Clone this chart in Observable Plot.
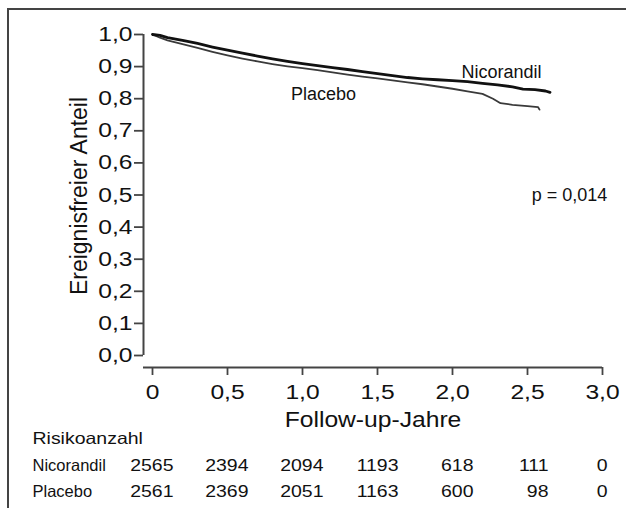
<!DOCTYPE html>
<html><head><meta charset="utf-8">
<script src="https://cdn.jsdelivr.net/npm/d3@7"></script>
<script src="https://cdn.jsdelivr.net/npm/@observablehq/plot@0.6"></script>
<style>
body{margin:0;background:#fff;}
#wrap{position:relative;width:626px;height:508px;overflow:hidden;background:#fff;}
#frame{position:absolute;left:7px;top:8px;width:640px;height:520px;border-top:2px solid #444;border-left:2px solid #444;}
#chart{position:absolute;left:0;top:0;}
</style></head><body>
<div id="wrap"><div id="frame"></div><div id="chart"></div></div>
<script>
// Kaplan-Meier curves
const nicorandilYears = [0,0.05,0.1,0.2,0.3,0.4,0.5,0.6,0.7,0.8,0.9,1.0,1.1,1.2,1.3,1.4,1.5,1.6,1.7,1.8,1.9,2.0,2.1,2.2,2.3,2.4,2.47,2.55,2.62,2.65];
const nicorandilSurvival = [1.0,0.997,0.99,0.982,0.972,0.961,0.951,0.942,0.933,0.924,0.916,0.909,0.903,0.897,0.891,0.884,0.878,0.872,0.866,0.862,0.859,0.856,0.853,0.848,0.843,0.837,0.83,0.828,0.824,0.82];
const placeboYears = [0,0.05,0.1,0.2,0.3,0.4,0.5,0.6,0.7,0.8,0.9,1.0,1.1,1.2,1.3,1.4,1.5,1.6,1.7,1.8,1.9,2.0,2.1,2.2,2.27,2.32,2.4,2.5,2.57,2.58];
const placeboSurvival = [1.0,0.99,0.982,0.97,0.958,0.946,0.935,0.925,0.916,0.908,0.901,0.895,0.889,0.882,0.875,0.869,0.863,0.857,0.851,0.845,0.838,0.831,0.823,0.815,0.80,0.786,0.781,0.777,0.774,0.766];

// Risk table
const riskTimes = [0,0.5,1.0,1.5,2.0,2.5,3.0];
const riskNicorandil = [2565,2394,2094,1193,618,111,0];
const riskPlacebo = [2561,2369,2051,1163,600,98,0];

// Ticks
const xTicks = [0,0.5,1.0,1.5,2.0,2.5,3.0];
const yTicks = [0,0.1,0.2,0.3,0.4,0.5,0.6,0.7,0.8,0.9,1.0];

// Texts
const yTitle = "Ereignisfreier Anteil";
const xTitle = "Follow-up-Jahre";
const riskTitle = "Risikoanzahl";
const annotationLabels = ["Nicorandil","Placebo","p = 0,014"];
const annotationX = [2.327,1.14,2.78];
const annotationY = [0.883,0.813,0.498];

const nicoData = nicorandilYears.map((t,i)=>({t, s:nicorandilSurvival[i]}));
const placData = placeboYears.map((t,i)=>({t, s:placeboSurvival[i]}));
const riskData = riskTimes.map((t,i)=>({t, nico:String(riskNicorandil[i]), plac:String(riskPlacebo[i])}));
const annotations = annotationLabels.map((label,i)=>({label, x:annotationX[i], y:annotationY[i]}));

const fmtY = d => d.toFixed(1).replace(".", ",");
const fmtX = d => d === 0 ? "0" : d.toFixed(1).replace(".", ",");
const ink = "#111";
const axisInk = "#444";
const rowFont = 16.5;
const dyTitle = 76, dyNico = 103, dyPlac = 129;

const chart = Plot.plot({
  width: 626, height: 508,
  marginTop: 34, marginBottom: 141, marginLeft: 143, marginRight: 24,
  x: {domain: [0, 3], insetLeft: 9},
  y: {domain: [0, 1], insetBottom: 12},
  style: {fontFamily: "'Liberation Sans', Arial, sans-serif", color: ink, background: "transparent", overflow: "visible"},
  marks: [
    Plot.ruleX([0], {y1: 0, y2: 1, dx: -9, stroke: axisInk, strokeWidth: 2}),
    Plot.axisY({ticks: yTicks, tickSize: 9, tickPadding: 2, tickFormat: fmtY, fontSize: 20.5, label: null, stroke: axisInk, strokeWidth: 1.8, fill: ink}),
    Plot.ruleY([0], {dy: 12, stroke: axisInk, strokeWidth: 2}),
    Plot.axisX({ticks: xTicks, tickSize: 8, tickPadding: 9, tickFormat: fmtX, fontSize: 20.5, label: null, stroke: axisInk, strokeWidth: 1.8, fill: ink}),
    Plot.line(placData, {x: "t", y: "s", stroke: "#3a3a3a", strokeWidth: 1.8}),
    Plot.line(nicoData, {x: "t", y: "s", stroke: "#111", strokeWidth: 2.8}),
    Plot.text(annotations, {x: "x", y: "y", text: "label", fontSize: 18, fill: ink}),
    Plot.text([yTitle], {frameAnchor: "left", textAnchor: "middle", rotate: -90, dx: -64, dy: -5, fontSize: 23, fill: ink, lineAnchor: "middle"}),
    Plot.text([xTitle], {frameAnchor: "bottom", dy: 59, fontSize: 22, fill: ink}),
    Plot.text([riskTitle], {frameAnchor: "bottom-left", dx: -111, dy: dyTitle, textAnchor: "start", fontSize: rowFont, fill: ink}),
    Plot.text(["Nicorandil"], {frameAnchor: "bottom-left", dx: -111, dy: dyNico, textAnchor: "start", fontSize: rowFont, fill: ink}),
    Plot.text(["Placebo"], {frameAnchor: "bottom-left", dx: -111, dy: dyPlac, textAnchor: "start", fontSize: rowFont, fill: ink}),
    Plot.text(riskData.filter(d => d.t < 3), {x: "t", text: "nico", frameAnchor: "bottom", dy: dyNico, dx: 21, textAnchor: "end", fontSize: rowFont, fill: ink}),
    Plot.text(riskData.filter(d => d.t < 3), {x: "t", text: "plac", frameAnchor: "bottom", dy: dyPlac, dx: 21, textAnchor: "end", fontSize: rowFont, fill: ink}),
    Plot.text(riskData.filter(d => d.t >= 3), {x: "t", text: "nico", frameAnchor: "bottom", dy: dyNico, dx: 5, textAnchor: "end", fontSize: rowFont, fill: ink}),
    Plot.text(riskData.filter(d => d.t >= 3), {x: "t", text: "plac", frameAnchor: "bottom", dy: dyPlac, dx: 5, textAnchor: "end", fontSize: rowFont, fill: ink})
  ]
});
document.getElementById("chart").appendChild(chart);

// widen glyphs horizontally to match the reference's stretched type
chart.querySelectorAll("text").forEach(t => {
  const txt = t.textContent;
  if (annotationLabels.includes(txt) || txt === yTitle) return;
  const fs = parseFloat(getComputedStyle(t).fontSize);
  const k = fs < 18 ? 1.18 : fs > 21 ? 1.12 : 1.2;
  const L = t.getComputedTextLength();
  if (L > 0) { t.setAttribute("textLength", L * k); t.setAttribute("lengthAdjust", "spacingAndGlyphs"); }
});
</script>
</body></html>
